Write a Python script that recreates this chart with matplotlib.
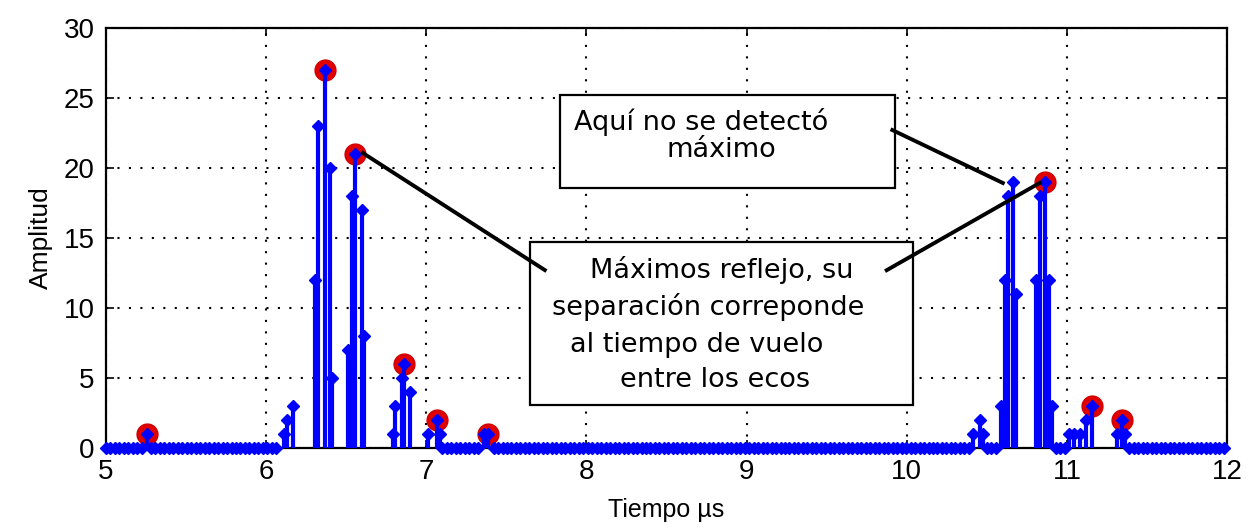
import matplotlib.pyplot as plt
import numpy as np
from matplotlib.patches import Rectangle

# non-zero samples of the echo signal, grouped by echo (time in us)
t_echo = [5.256,
          6.11, 6.13, 6.17,
          6.305, 6.325, 6.367, 6.398, 6.409,
          6.514, 6.534, 6.554, 6.596, 6.614,
          6.791, 6.804, 6.848, 6.860, 6.898,
          7.01, 7.066, 7.085,
          7.36, 7.385,
          10.412, 10.456, 10.474,
          10.591, 10.612, 10.632, 10.664, 10.685,
          10.805, 10.83, 10.861, 10.886, 10.905,
          11.011, 11.042, 11.08, 11.117, 11.155,
          11.311, 11.342, 11.361]
a_echo = [1,
          1, 2, 3,
          12, 23, 27, 20, 5,
          7, 18, 21, 17, 8,
          1, 3, 5, 6, 4,
          1, 2, 1,
          1, 1,
          1, 2, 1,
          3, 12, 18, 19, 11,
          12, 18, 19, 12, 3,
          1, 1, 1, 2, 3,
          1, 2, 1]

# detected maxima (red circles)
t_peak = [5.256, 6.367, 6.554, 6.860, 7.066, 7.385, 10.861, 11.155, 11.342]
a_peak = [1, 27, 21, 6, 2, 1, 19, 3, 2]

# stretches of time where the signal sits at zero, and sampling step
zero_segments = [(5.0, 6.09), (6.62, 6.63), (6.90, 6.92), (7.10, 7.34),
                 (7.42, 10.40), (10.50, 10.57), (10.93, 11.0), (11.39, 12.0)]
step = 0.028

xticks = [5, 6, 7, 8, 9, 10, 11, 12]
yticks = [0, 5, 10, 15, 20, 25, 30]

box_top_lines = ['Aquí no se detectó', 'máximo']
box_bottom_lines = ['Máximos reflejo, su', 'separación correponde',
                    'al tiempo de vuelo', 'entre los ecos']

# build the full sampled signal
t_zero = np.concatenate([np.arange(a, b + 1e-9, step) for a, b in zero_segments])
near = np.min(np.abs(t_zero[:, None] - np.array(t_echo)[None, :]), axis=1) < 0.012
t_zero = t_zero[~near]
t_all = np.concatenate([t_zero, t_echo])
a_all = np.concatenate([np.zeros(len(t_zero)), a_echo])
order = np.argsort(t_all)
t_all, a_all = t_all[order], a_all[order]

fig = plt.figure(figsize=(12.54, 5.31), dpi=100)
ax = fig.add_axes([0.0845, 0.1563, 0.894, 0.791])

blue = '#0000ff'
ax.plot(t_peak, a_peak, 'o', color='#e00000', ms=15, mec='#d00000', zorder=2, clip_on=False)

markerline, stemlines, baseline = ax.stem(t_all, a_all, basefmt=' ')
plt.setp(stemlines, color=blue, linewidth=3.0, zorder=3)
plt.setp(markerline, color=blue, marker='D', ms=6.5, zorder=4, clip_on=False)

ax.set_xlim(5, 12)
ax.set_ylim(0, 30)
ax.set_xticks(xticks)
ax.set_yticks(yticks)
ax.grid(True, color='black', linestyle=(0, (1, 4.5)), linewidth=1.5)
ax.tick_params(direction='in', length=6, width=1.2, top=True, right=True,
               labelsize=20, pad=8)
for lab in ax.get_xticklabels() + ax.get_yticklabels():
    lab.set_family('Liberation Sans')
for s in ax.spines.values():
    s.set_linewidth(1.6)

ax.set_xlabel('Tiempo µs', family='Liberation Sans', fontsize=18, labelpad=9)
ax.set_ylabel('Amplitud', family='Liberation Sans', fontsize=19, labelpad=8)

# annotation boxes
ax.add_patch(Rectangle((7.834, 18.57), 2.091, 6.63, facecolor='white',
                       edgecolor='black', linewidth=1.6, zorder=5))
ax.add_patch(Rectangle((7.65, 3.07), 2.39, 11.63, facecolor='white',
                       edgecolor='black', linewidth=1.6, zorder=5))

# connector lines
ax.plot([6.604, 7.74], [21.07, 12.71], color='black', lw=2.8, zorder=6)
ax.plot([9.875, 10.83], [12.7, 18.93], color='black', lw=2.8, zorder=6)
ax.plot([9.91, 10.60], [22.71, 18.93], color='black', lw=2.8, zorder=6)

top_pos = [(7.921, 22.7), (8.502, 20.79)]
for txt, (x, y) in zip(box_top_lines, top_pos):
    ax.text(x, y, txt, fontsize=19.5, family='DejaVu Sans', va='baseline', zorder=7)
bottom_pos = [(8.021, 12.14), (7.784, 9.5), (7.896, 6.86), (8.208, 4.36)]
for txt, (x, y) in zip(box_bottom_lines, bottom_pos):
    ax.text(x, y, txt, fontsize=19.5, family='DejaVu Sans', va='baseline', zorder=7)

fig.savefig('out.png', dpi=100)
